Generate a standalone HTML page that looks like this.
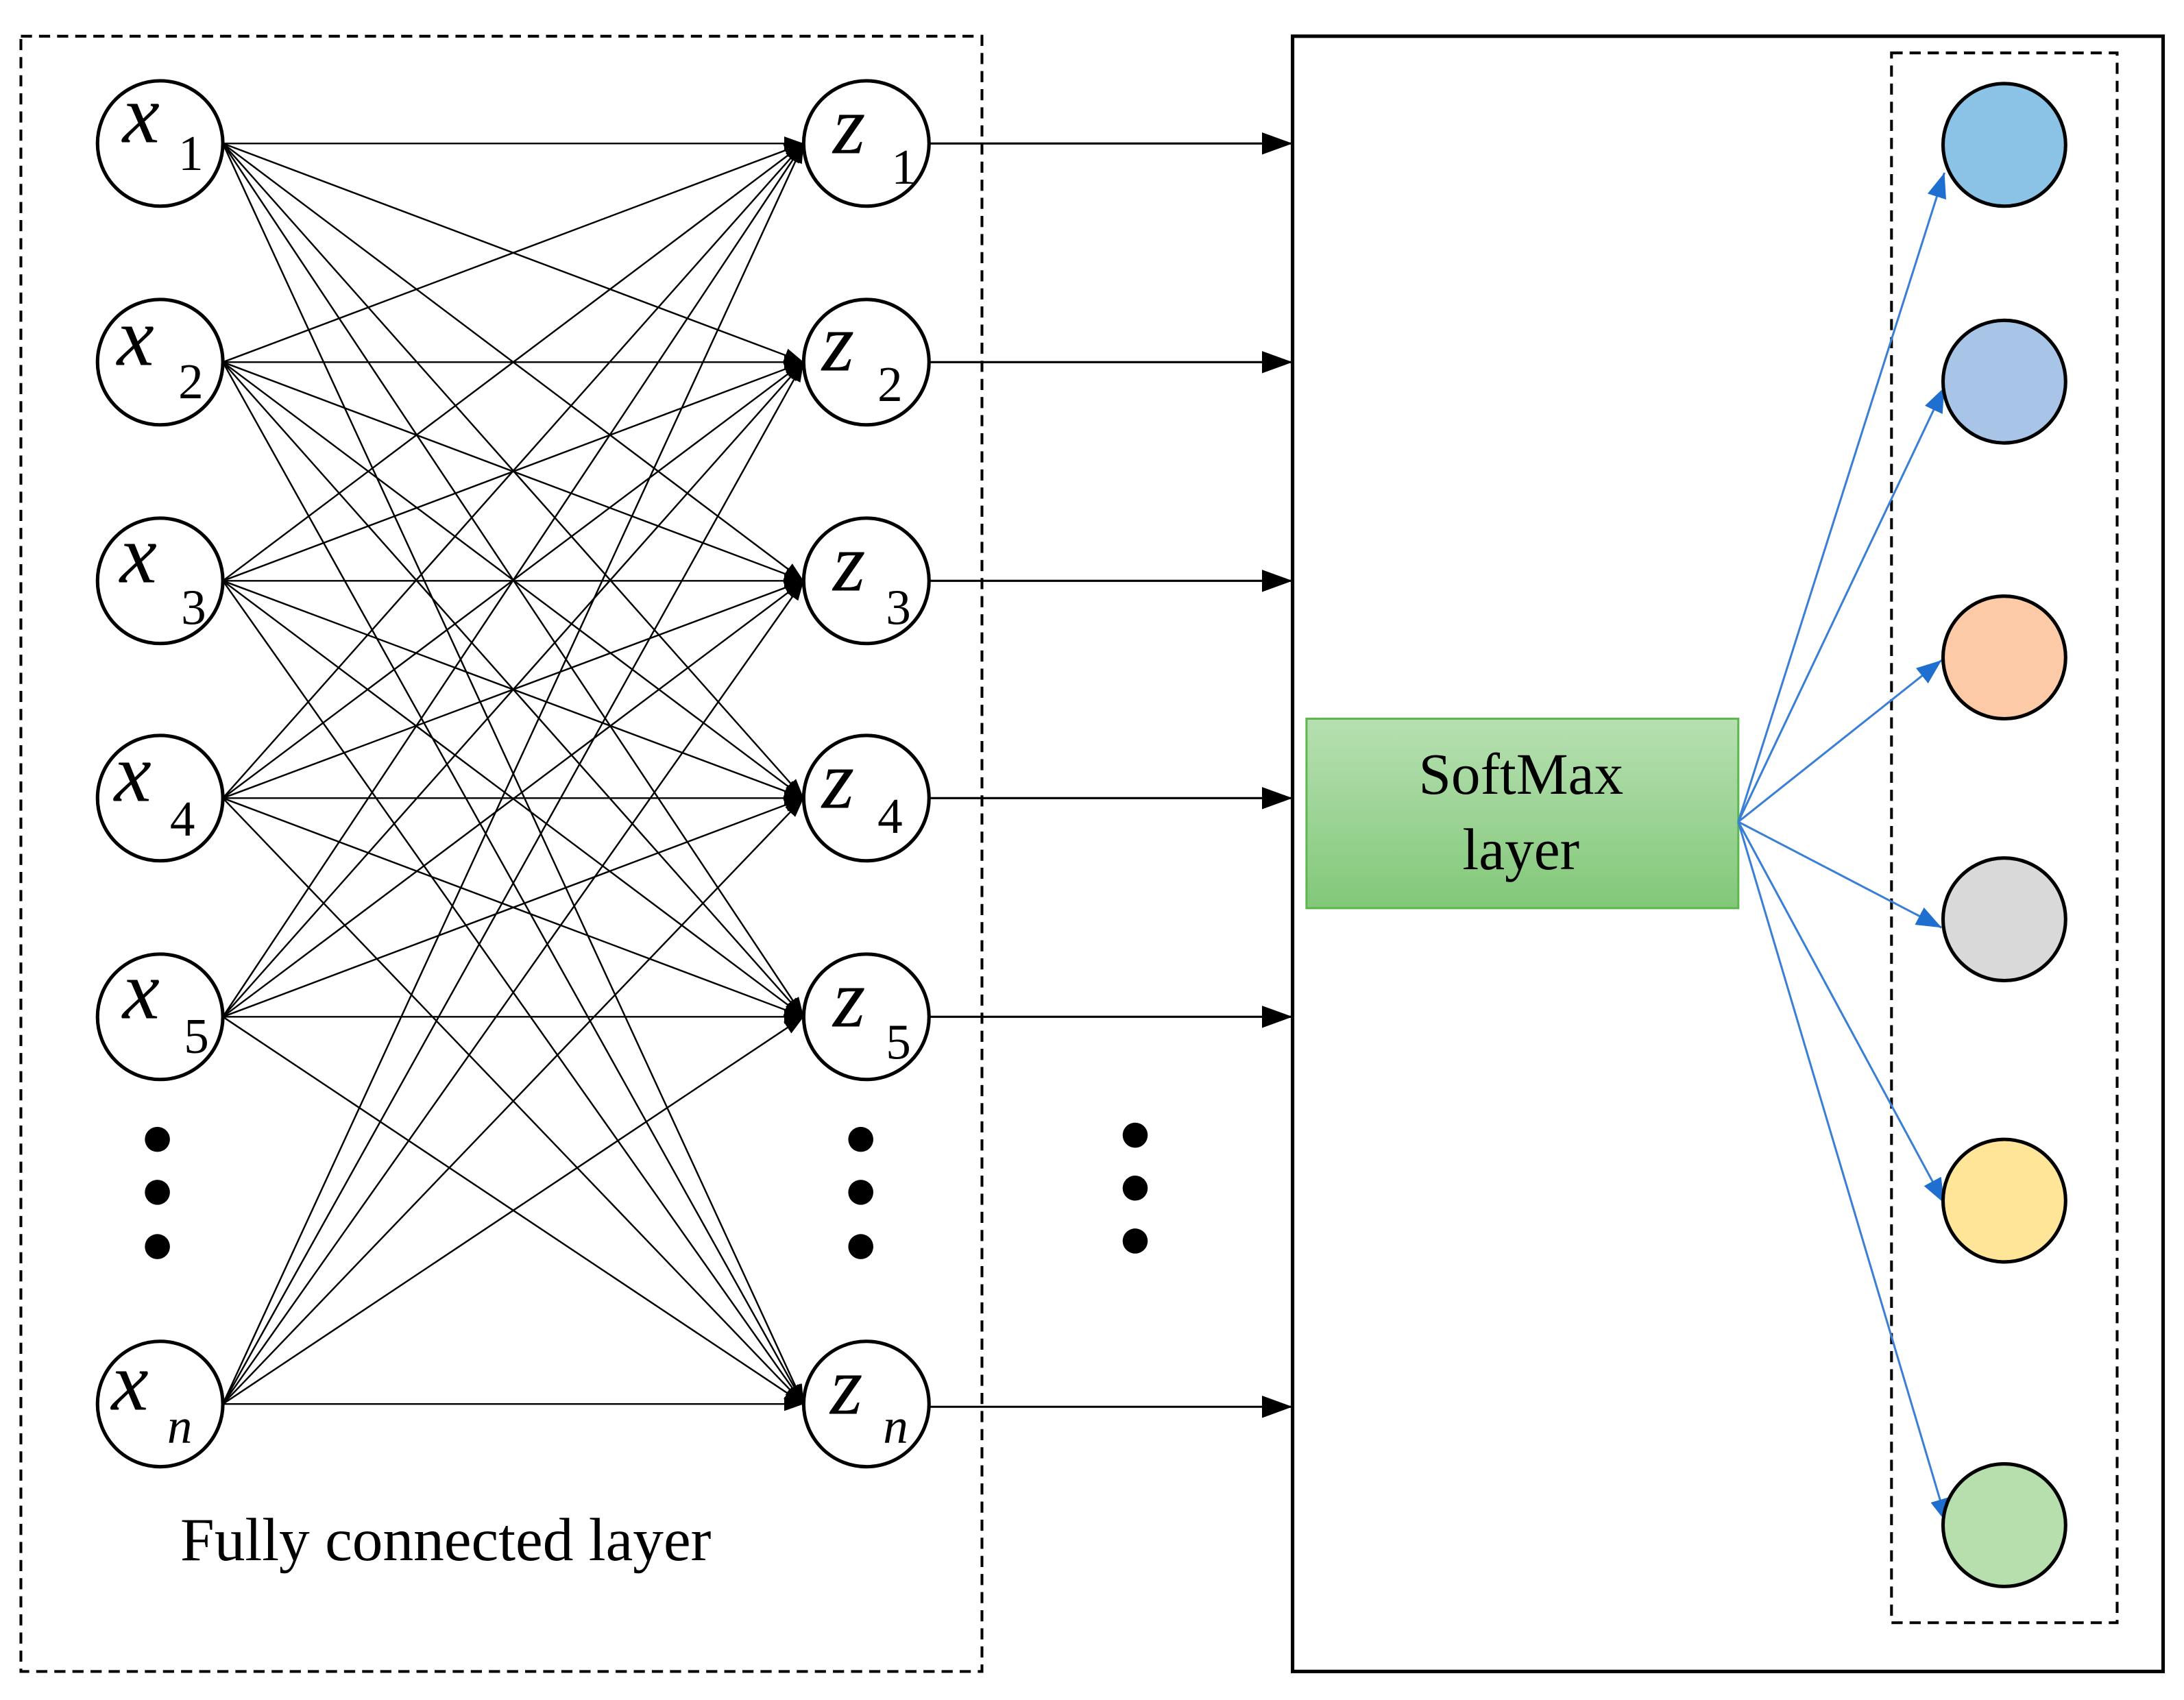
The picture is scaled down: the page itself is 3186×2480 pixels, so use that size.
<!DOCTYPE html>
<html><head><meta charset="utf-8"><style>html,body{margin:0;padding:0;background:#fff}svg{display:block}</style></head>
<body>
<svg width="3186" height="2480" viewBox="0 0 1568 1220.5" preserveAspectRatio="none" xmlns="http://www.w3.org/2000/svg" font-family="Liberation Serif, serif">
<defs>
<marker id="a" markerWidth="14" markerHeight="10" refX="14" refY="5" orient="auto" markerUnits="userSpaceOnUse"><path d="M0,0 L14,5 L0,10 z" fill="#000"/></marker>
<marker id="b" markerWidth="22" markerHeight="16" refX="22" refY="8" orient="auto" markerUnits="userSpaceOnUse"><path d="M0,0 L22,8 L0,16 z" fill="#000"/></marker>
<marker id="c" markerWidth="18" markerHeight="14" refX="18" refY="7" orient="auto" markerUnits="userSpaceOnUse"><path d="M0,0 L18,7 L0,14 z" fill="#1f6fd0"/></marker>
<linearGradient id="g" x1="0" y1="0" x2="0" y2="1"><stop offset="0" stop-color="#b7e0b2"/><stop offset="1" stop-color="#82c879"/></linearGradient>
</defs>
<rect x="15" y="26" width="690" height="1174" fill="none" stroke="#000" stroke-width="2" stroke-dasharray="8,5"/>
<rect x="928" y="26" width="625" height="1174" fill="none" stroke="#000" stroke-width="2.5"/>
<rect x="1358" y="38" width="162" height="1127" fill="none" stroke="#000" stroke-width="2" stroke-dasharray="8,5"/>
<g stroke="#000" stroke-width="1.2" marker-end="url(#a)">
<line x1="160" y1="103" x2="577" y2="103"/><line x1="160" y1="103" x2="577" y2="260"/><line x1="160" y1="103" x2="577" y2="417"/><line x1="160" y1="103" x2="577" y2="573"/><line x1="160" y1="103" x2="577" y2="730"/><line x1="160" y1="103" x2="577" y2="1008"/>
<line x1="160" y1="260" x2="577" y2="103"/><line x1="160" y1="260" x2="577" y2="260"/><line x1="160" y1="260" x2="577" y2="417"/><line x1="160" y1="260" x2="577" y2="573"/><line x1="160" y1="260" x2="577" y2="730"/><line x1="160" y1="260" x2="577" y2="1008"/>
<line x1="160" y1="417" x2="577" y2="103"/><line x1="160" y1="417" x2="577" y2="260"/><line x1="160" y1="417" x2="577" y2="417"/><line x1="160" y1="417" x2="577" y2="573"/><line x1="160" y1="417" x2="577" y2="730"/><line x1="160" y1="417" x2="577" y2="1008"/>
<line x1="160" y1="573" x2="577" y2="103"/><line x1="160" y1="573" x2="577" y2="260"/><line x1="160" y1="573" x2="577" y2="417"/><line x1="160" y1="573" x2="577" y2="573"/><line x1="160" y1="573" x2="577" y2="730"/><line x1="160" y1="573" x2="577" y2="1008"/>
<line x1="160" y1="730" x2="577" y2="103"/><line x1="160" y1="730" x2="577" y2="260"/><line x1="160" y1="730" x2="577" y2="417"/><line x1="160" y1="730" x2="577" y2="573"/><line x1="160" y1="730" x2="577" y2="730"/><line x1="160" y1="730" x2="577" y2="1008"/>
<line x1="160" y1="1008" x2="577" y2="103"/><line x1="160" y1="1008" x2="577" y2="260"/><line x1="160" y1="1008" x2="577" y2="417"/><line x1="160" y1="1008" x2="577" y2="573"/><line x1="160" y1="1008" x2="577" y2="730"/><line x1="160" y1="1008" x2="577" y2="1008"/>
</g>
<g stroke="#000" stroke-width="1.5" marker-end="url(#b)">
<line x1="667" y1="103" x2="928" y2="103"/>
<line x1="667" y1="260" x2="928" y2="260"/>
<line x1="667" y1="417" x2="928" y2="417"/>
<line x1="667" y1="573" x2="928" y2="573"/>
<line x1="667" y1="730" x2="928" y2="730"/>
<line x1="667" y1="1010" x2="928" y2="1010"/>
</g>
<g fill="#fff" stroke="#000" stroke-width="2.5">
<circle cx="115" cy="103" r="45"/><circle cx="115" cy="260" r="45"/><circle cx="115" cy="417" r="45"/><circle cx="115" cy="573" r="45"/><circle cx="115" cy="730" r="45"/><circle cx="115" cy="1008" r="45"/>
<circle cx="622" cy="103" r="45"/><circle cx="622" cy="260" r="45"/><circle cx="622" cy="417" r="45"/><circle cx="622" cy="573" r="45"/><circle cx="622" cy="730" r="45"/><circle cx="622" cy="1008" r="45"/>
</g>
<g font-size="60" font-style="italic">
<text x="88" y="102">x</text><text x="84" y="262">x</text><text x="86" y="418">x</text><text x="82" y="575">x</text><text x="88" y="731">x</text><text x="80" y="1012">x</text>
<text x="598" y="110">z</text><text x="590" y="266">z</text><text x="598" y="424">z</text><text x="590" y="580">z</text><text x="598" y="737">z</text><text x="596" y="1015">z</text>
</g>
<g font-size="36">
<text x="128" y="122">1</text><text x="128" y="286">2</text><text x="130" y="448">3</text><text x="122" y="600">4</text><text x="132" y="756">5</text><text x="120" y="1036" font-style="italic">n</text>
<text x="640" y="132">1</text><text x="630" y="288">2</text><text x="636" y="448">3</text><text x="630" y="598">4</text><text x="636" y="760">5</text><text x="634" y="1036" font-style="italic">n</text>
</g>
<g fill="#000">
<circle cx="113" cy="818" r="9"/><circle cx="113" cy="856" r="9"/><circle cx="113" cy="895" r="9"/>
<circle cx="618" cy="818" r="9"/><circle cx="618" cy="856" r="9"/><circle cx="618" cy="895" r="9"/>
<circle cx="815" cy="815" r="9"/><circle cx="815" cy="853" r="9"/><circle cx="815" cy="891" r="9"/>
</g>
<text x="320" y="1120" font-size="44" text-anchor="middle">Fully connected layer</text>
<rect x="938" y="516" width="310" height="136" fill="url(#g)" stroke="#5cb84c" stroke-width="1.5"/>
<text x="1092" y="570" font-size="42" text-anchor="middle">SoftMax</text>
<text x="1092" y="624" font-size="42" text-anchor="middle">layer</text>
<g stroke="#3a7fd5" stroke-width="1.5" marker-end="url(#c)">
<line x1="1248" y1="590" x2="1396" y2="124"/>
<line x1="1248" y1="590" x2="1396" y2="278"/>
<line x1="1248" y1="590" x2="1394" y2="474"/>
<line x1="1248" y1="590" x2="1394" y2="666"/>
<line x1="1248" y1="590" x2="1396" y2="864"/>
<line x1="1248" y1="590" x2="1398" y2="1094"/>
</g>
<g stroke="#000" stroke-width="2.5">
<circle cx="1439" cy="104" r="44" fill="#8bc3e6"/>
<circle cx="1439" cy="274" r="44" fill="#a8c4e7"/>
<circle cx="1439" cy="472" r="44" fill="#fccaa6"/>
<circle cx="1439" cy="660" r="44" fill="#d9d9d9"/>
<circle cx="1439" cy="862" r="44" fill="#ffe598"/>
<circle cx="1439" cy="1095" r="44" fill="#b7dfae"/>
</g>
</svg>
</body></html>
